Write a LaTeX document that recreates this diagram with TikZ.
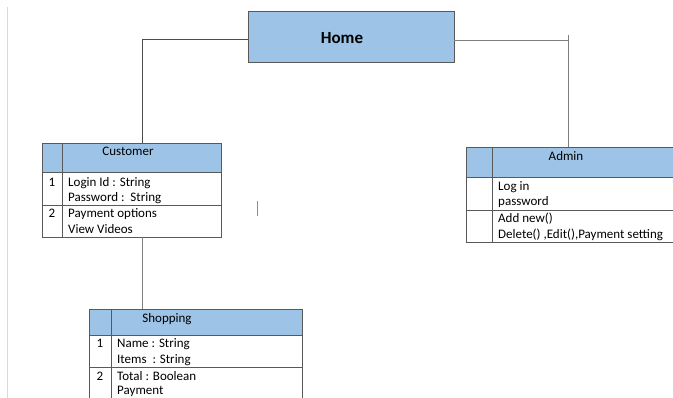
\documentclass[tikz,border=0pt]{standalone}
\usepackage{fontspec}
\setmainfont{Carlito}
\usetikzlibrary{calc}
\definecolor{hdrblue}{HTML}{9DC3E6}
\definecolor{bordgray}{HTML}{595959}
\definecolor{linkgray}{HTML}{7F7F7F}
\begin{document}
\begin{tikzpicture}[x=1pt,y=-1pt,
  box/.style={draw=bordgray, line width=0.9pt, inner sep=0pt, outer sep=0pt, anchor=north west},
  tline/.style={draw=bordgray, line width=0.9pt},
  link/.style={draw=linkgray, line width=0.9pt},
  txt/.style={anchor=west, inner sep=0pt, text height=9pt, text depth=3pt, font=\fontsize{13}{16}\selectfont},
  num/.style={anchor=center, inner sep=0pt, text height=9pt, text depth=3pt, font=\fontsize{13}{16}\selectfont},
  hdr/.style={anchor=center, inner sep=0pt, text height=9pt, text depth=3pt, font=\fontsize{13}{16}\selectfont}]
\useasboundingbox (0,0) rectangle (673,398);
\clip (0,0) rectangle (673,398);
\fill[white] (0,0) rectangle (673,398);
\draw[black!15, line width=1pt] (7,7) -- (7,398);

% Home
\node[draw=bordgray, fill=hdrblue, line width=0.9pt, minimum width=206pt, minimum height=51pt, inner sep=0pt] (home) at (351,36.5) {};
\node[inner sep=0pt, font=\fontsize{17}{20}\selectfont\bfseries] (hometxt) at (342,38.5) {Home};

% Customer table
\fill[hdrblue] (42,143) rectangle (221,172);
\node[box, minimum width=179pt, minimum height=94pt] (cust) at (42,143) {};
\draw[tline] (42,172) -- (221,172);
\draw[tline] (42,205) -- (221,205);
\draw[tline] (62,143) -- (62,237);
\node[hdr] (custh) at (128,153) {Customer};
\node[num] (cn1) at (52,184) {1};
\node[num] (cn2) at (52,215) {2};
\node[txt] (ct1) at (68,184) {Login Id : String};
\node[txt] (ct2) at (68,199) {Password :\ \ String};
\node[txt] (ct3) at (68,215) {Payment options};
\node[txt] (ct4) at (68,231) {View Videos};

% Admin table
\fill[hdrblue] (466,147) rectangle (690,177);
\node[box, minimum width=224pt, minimum height=95pt] (admin) at (466,147) {};
\draw[tline] (466,177) -- (690,177);
\draw[tline] (466,210) -- (690,210);
\draw[tline] (492,147) -- (492,242);
\node[hdr] (adminh) at (566,158) {Admin};
\node[txt] (at1) at (498,188) {Log in};
\node[txt] (at2) at (498,203) {password};
\node[txt] (at3) at (498,220) {Add new()};
\node[txt] (at4) at (498,236) {Delete() ,Edit(),Payment setting};

% Shopping table
\fill[hdrblue] (89,309) rectangle (302,335);
\node[box, minimum width=213pt, minimum height=110pt] (shop) at (89,309) {};
\draw[tline] (89,335) -- (302,335);
\draw[tline] (89,367) -- (302,367);
\draw[tline] (111,309) -- (111,420);
\node[hdr] (shoph) at (167,320) {Shopping};
\node[num] (sn1) at (100,345) {1};
\node[num] (sn2) at (100,378) {2};
\node[txt] (st1) at (117,345) {Name : String};
\node[txt] (st2) at (117,361) {Items\ \ : String};
\node[txt] (st3) at (117,377.5) {Total : Boolean};
\node[txt] (st4) at (117,391.5) {Payment};

% Connectors
\draw[link, draw=black!70] ($(home.west)+(0,2.5)$) -| ($(cust.north west)+(100,0)$);
\coordinate (rtop) at (568,35);
\draw[link] ($(home.east)+(0,3.5)$) -- ($(home.east)+(114,3.5)$);
\draw[link] (rtop) -- (rtop |- admin.north);
\draw[link] ($(cust.south west)+(100,0)$) -- ($(shop.north west)+(53,0)$);

% text cursor mark
\draw[black!45, line width=0.8pt] (257,201) -- (257,216);
\end{tikzpicture}
\end{document}
